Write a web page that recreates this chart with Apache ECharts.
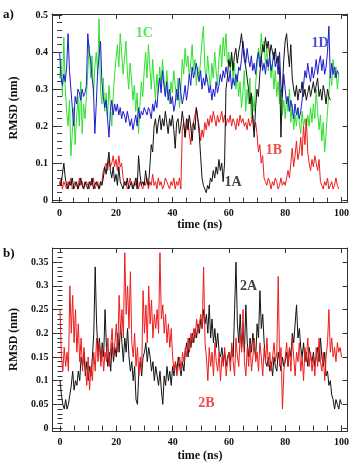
<!DOCTYPE html>
<html>
<head>
<meta charset="utf-8">
<script src="https://cdn.jsdelivr.net/npm/echarts@6/dist/echarts.min.js"></script>
<style>
  html, body { margin: 0; padding: 0; background: #fff; }
  #chart { width: 352px; height: 463px; }
</style>
</head>
<body>
<div id="chart"></div>
<script>
// sampling step of every trajectory (ns)
const DT = 0.5;

// panel a) RMSD (nm), one value per 0.5 ns
const rmsd1A = [
  0.05,0.04,0.07,0.10,0.06,0.04,0.03,0.05,0.04,0.06,0.03,0.04,0.05,0.03,0.04,0.06,0.04,0.03,0.05,0.04,
  0.03,0.05,0.04,0.06,0.03,0.04,0.05,0.04,0.03,0.05,0.04,0.06,0.09,0.07,0.10,0.13,0.08,0.06,0.09,0.05,
  0.07,0.04,0.09,0.05,0.04,0.03,0.05,0.04,0.06,0.03,0.04,0.05,0.03,0.04,0.06,0.03,0.12,0.07,0.04,0.05,
  0.04,0.08,0.05,0.04,0.09,0.15,0.13,0.20,0.22,0.18,0.21,0.23,0.19,0.22,0.20,0.24,0.21,0.18,0.22,0.20,
  0.23,0.19,0.14,0.21,0.22,0.18,0.20,0.24,0.21,0.17,0.22,0.19,0.23,0.20,0.16,0.21,0.19,0.25,0.22,0.18,
  0.12,0.06,0.04,0.03,0.02,0.04,0.03,0.06,0.05,0.08,0.06,0.09,0.07,0.11,0.08,0.10,0.05,0.10,0.30,0.33,
  0.38,0.36,0.40,0.35,0.39,0.41,0.37,0.40,0.42,0.45,0.41,0.38,0.36,0.33,0.30,0.26,0.29,0.22,0.17,0.25,
  0.30,0.28,0.34,0.38,0.42,0.40,0.44,0.41,0.43,0.39,0.42,0.40,0.38,0.41,0.37,0.39,0.35,0.17,0.30,0.38,
  0.43,0.45,0.40,0.36,0.42,0.33,0.30,0.28,0.31,0.27,0.30,0.29,0.32,0.28,0.30,0.27,0.29,0.31,0.28,0.30,
  0.32,0.29,0.31,0.33,0.28,0.30,0.27,0.31,0.29,0.26,0.30,0.28,0.27
];
const rmsd1B = [
  0.04,0.06,0.03,0.05,0.04,0.03,0.05,0.04,0.06,0.03,0.04,0.05,0.04,0.03,0.06,0.04,0.05,0.03,0.04,0.05,
  0.04,0.03,0.05,0.04,0.06,0.03,0.04,0.05,0.03,0.04,0.05,0.08,0.09,0.10,0.08,0.11,0.09,0.10,0.12,0.09,
  0.11,0.08,0.12,0.09,0.10,0.06,0.04,0.05,0.03,0.04,0.06,0.04,0.03,0.05,0.04,0.06,0.03,0.05,0.04,0.03,
  0.05,0.04,0.06,0.03,0.05,0.04,0.07,0.04,0.05,0.03,0.06,0.04,0.05,0.03,0.04,0.06,0.05,0.04,0.03,0.05,
  0.04,0.06,0.03,0.05,0.04,0.06,0.03,0.19,0.21,0.17,0.20,0.22,0.18,0.15,0.20,0.21,0.23,0.25,0.22,0.20,
  0.16,0.19,0.17,0.21,0.19,0.22,0.20,0.23,0.21,0.24,0.22,0.20,0.23,0.21,0.22,0.24,0.21,0.23,0.20,0.22,
  0.21,0.23,0.20,0.22,0.21,0.19,0.22,0.20,0.23,0.21,0.22,0.20,0.21,0.19,0.22,0.20,0.21,0.23,0.19,0.21,
  0.18,0.13,0.15,0.10,0.12,0.06,0.05,0.04,0.06,0.05,0.03,0.05,0.04,0.06,0.05,0.03,0.04,0.06,0.04,0.05,
  0.04,0.06,0.08,0.06,0.10,0.14,0.09,0.12,0.16,0.11,0.13,0.17,0.12,0.20,0.15,0.22,0.13,0.10,0.08,0.11,
  0.09,0.12,0.10,0.08,0.11,0.05,0.04,0.03,0.05,0.04,0.06,0.03,0.04,0.05,0.03,0.04,0.06,0.04,0.03
];
const rmsd1C = [
  0.33,0.38,0.28,0.44,0.30,0.24,0.20,0.27,0.12,0.18,0.25,0.15,0.22,0.28,0.20,0.32,0.18,0.26,0.22,0.28,
  0.35,0.42,0.33,0.39,0.28,0.36,0.40,0.34,0.49,0.30,0.26,0.33,0.24,0.29,0.22,0.31,0.26,0.20,0.28,0.34,
  0.38,0.42,0.36,0.45,0.40,0.34,0.38,0.43,0.35,0.30,0.37,0.33,0.27,0.31,0.24,0.29,0.18,0.26,0.32,0.28,
  0.35,0.40,0.33,0.42,0.36,0.30,0.38,0.32,0.27,0.34,0.29,0.36,0.31,0.38,0.33,0.28,0.35,0.30,0.26,0.32,
  0.29,0.35,0.31,0.27,0.33,0.25,0.30,0.38,0.34,0.41,0.36,0.39,0.33,0.37,0.42,0.35,0.38,0.31,0.36,0.33,
  0.38,0.43,0.47,0.36,0.32,0.39,0.34,0.30,0.37,0.33,0.40,0.35,0.31,0.38,0.42,0.36,0.44,0.39,0.45,0.37,
  0.40,0.35,0.39,0.33,0.37,0.30,0.34,0.28,0.32,0.25,0.29,0.35,0.24,0.30,0.26,0.33,0.22,0.28,0.24,0.31,
  0.36,0.41,0.38,0.45,0.40,0.43,0.37,0.41,0.35,0.39,0.33,0.37,0.30,0.35,0.28,0.32,0.26,0.30,0.23,0.27,
  0.22,0.28,0.24,0.30,0.21,0.26,0.19,0.23,0.20,0.25,0.21,0.18,0.24,0.20,0.22,0.19,0.23,0.20,0.25,0.21,
  0.26,0.22,0.30,0.24,0.19,0.23,0.16,0.21,0.13,0.18,0.24,0.29,0.35,0.31,0.38,0.33,0.36,0.30,0.34
];
const rmsd1D = [
  0.40,0.33,0.31,0.34,0.32,0.36,0.45,0.35,0.30,0.25,0.20,0.28,0.26,0.30,0.29,0.27,0.30,0.28,0.29,0.31,
  0.45,0.40,0.38,0.33,0.30,0.18,0.26,0.35,0.39,0.43,0.32,0.28,0.25,0.27,0.22,0.17,0.24,0.27,0.23,0.26,
  0.24,0.26,0.23,0.25,0.22,0.24,0.23,0.21,0.24,0.22,0.20,0.22,0.19,0.21,0.23,0.20,0.25,0.22,0.24,0.23,
  0.25,0.24,0.23,0.25,0.24,0.22,0.26,0.24,0.27,0.25,0.30,0.33,0.29,0.35,0.31,0.28,0.32,0.27,0.30,0.26,
  0.28,0.24,0.26,0.30,0.27,0.33,0.29,0.26,0.28,0.31,0.27,0.30,0.34,0.31,0.36,0.33,0.35,0.37,0.34,0.32,
  0.35,0.30,0.33,0.31,0.34,0.32,0.29,0.31,0.27,0.30,0.28,0.32,0.29,0.31,0.34,0.32,0.35,0.33,0.36,0.34,
  0.32,0.35,0.30,0.33,0.31,0.34,0.32,0.36,0.35,0.38,0.43,0.40,0.37,0.41,0.38,0.36,0.39,0.35,0.37,0.34,
  0.38,0.40,0.36,0.39,0.35,0.37,0.34,0.38,0.36,0.39,0.35,0.37,0.40,0.36,0.38,0.34,0.40,0.31,0.28,0.34,
  0.30,0.26,0.28,0.24,0.27,0.25,0.22,0.26,0.23,0.25,0.22,0.24,0.27,0.31,0.35,0.33,0.37,0.34,0.32,0.36,
  0.33,0.35,0.38,0.34,0.37,0.39,0.35,0.38,0.34,0.36,0.40,0.47,0.33,0.37,0.34,0.36,0.33,0.35,0.34
];

// panel b) RMSD (nm), one value per 0.5 ns
const rmsd2A = [
  0.10,0.07,0.05,0.04,0.06,0.04,0.05,0.07,0.09,0.12,0.08,0.10,0.09,0.12,0.10,0.15,0.13,0.16,0.11,0.14,
  0.10,0.13,0.11,0.15,0.20,0.34,0.22,0.16,0.19,0.14,0.18,0.15,0.25,0.17,0.13,0.16,0.12,0.18,0.14,0.17,
  0.15,0.20,0.16,0.22,0.18,0.14,0.19,0.16,0.21,0.15,0.12,0.14,0.10,0.13,0.06,0.05,0.12,0.14,0.11,0.15,
  0.16,0.18,0.14,0.17,0.15,0.12,0.14,0.10,0.13,0.11,0.09,0.12,0.08,0.05,0.11,0.09,0.13,0.10,0.12,0.09,
  0.13,0.11,0.14,0.12,0.15,0.13,0.11,0.14,0.12,0.16,0.18,0.15,0.19,0.17,0.20,0.18,0.21,0.19,0.22,0.20,
  0.23,0.21,0.25,0.22,0.24,0.20,0.26,0.19,0.23,0.18,0.21,0.17,0.20,0.16,0.15,0.17,0.14,0.16,0.13,0.15,
  0.16,0.14,0.17,0.15,0.25,0.35,0.22,0.18,0.24,0.17,0.21,0.16,0.26,0.18,0.15,0.19,0.16,0.20,0.17,0.15,
  0.22,0.19,0.29,0.21,0.24,0.18,0.14,0.13,0.15,0.12,0.14,0.11,0.15,0.13,0.12,0.16,0.14,0.12,0.15,0.13,
  0.14,0.16,0.13,0.17,0.15,0.20,0.18,0.22,0.26,0.19,0.21,0.17,0.15,0.18,0.14,0.16,0.13,0.17,0.15,0.14,
  0.16,0.13,0.15,0.17,0.14,0.19,0.15,0.13,0.16,0.11,0.12,0.09,0.10,0.07,0.06,0.04,0.06,0.05,0.04,0.06,
  0.05
];
const rmsd2B = [
  0.25,0.15,0.12,0.17,0.13,0.16,0.12,0.30,0.20,0.28,0.18,0.25,0.16,0.22,0.14,0.19,0.12,0.17,0.13,0.09,
  0.15,0.08,0.13,0.10,0.16,0.12,0.19,0.14,0.18,0.13,0.17,0.12,0.16,0.14,0.19,0.13,0.17,0.21,0.15,0.18,
  0.22,0.16,0.28,0.20,0.25,0.19,0.37,0.24,0.30,0.21,0.33,0.18,0.15,0.20,0.13,0.17,0.11,0.15,0.12,0.29,
  0.20,0.26,0.18,0.30,0.22,0.27,0.19,0.24,0.21,0.25,0.20,0.37,0.23,0.26,0.20,0.24,0.18,0.22,0.17,0.21,
  0.15,0.12,0.14,0.11,0.13,0.15,0.12,0.16,0.14,0.17,0.15,0.19,0.16,0.20,0.18,0.21,0.19,0.23,0.20,0.22,
  0.24,0.21,0.34,0.18,0.15,0.10,0.17,0.13,0.16,0.11,0.18,0.14,0.12,0.16,0.10,0.15,0.13,0.17,0.11,0.14,
  0.16,0.12,0.18,0.14,0.11,0.19,0.15,0.13,0.20,0.16,0.25,0.14,0.11,0.17,0.13,0.18,0.12,0.15,0.19,0.14,
  0.16,0.12,0.18,0.15,0.11,0.17,0.14,0.19,0.13,0.16,0.12,0.15,0.18,0.14,0.16,0.32,0.13,0.17,0.04,0.12,
  0.15,0.18,0.13,0.17,0.12,0.19,0.15,0.11,0.16,0.14,0.18,0.12,0.15,0.10,0.17,0.14,0.19,0.13,0.16,0.12,
  0.15,0.11,0.17,0.13,0.19,0.14,0.12,0.16,0.10,0.15,0.18,0.25,0.16,0.19,0.15,0.17,0.14,0.18,0.16,0.17,
  0.15
];

// tick labels
const xTicks = [0, 20, 40, 60, 80, 100];
const xMinorTicks = [0,5,10,15,20,25,30,35,40,45,50,55,60,65,70,75,80,85,90,95,100];
const yTicksA = [0, 0.1, 0.2, 0.3, 0.4, 0.5];
const yTicksB = [0, 0.05, 0.1, 0.15, 0.2, 0.25, 0.3, 0.35];

// curve labels, placed in data coordinates
const labelNamesA = ['1A', '1B', '1C', '1D'];
const labelTimeA = [61.5, 76, 30, 92.4];
const labelRmsdA = [0.047, 0.135, 0.451, 0.424];
const labelNamesB = ['2A', '2B'];
const labelTimeB = [67, 52];
const labelRmsdB = [0.298, 0.052];

const FONT = "'Liberation Serif', 'DejaVu Serif', serif";
const AXIS_COLOR = '#333';
const C_BLACK = '#111111';
const C_RED = '#ee1c1c';
const C_GREEN = '#2fe02f';
const C_BLUE = '#1c1cd0';

const minorSteps = (lo, hi, step) => {
  const out = [];
  for (let v = lo; v <= hi + 1e-9; v += step) out.push(+v.toFixed(4));
  return out;
};

const toPairs = (vals) => vals.map((v, i) => [i * DT, v]);

const xAxesFor = (gridIndex) => {
  const base = {
    type: 'value', gridIndex, min: -2.7, max: 102.1,
    splitLine: { show: false }
  };
  return [
    { ...base, position: 'bottom',
      axisLine: { show: true, onZero: false, lineStyle: { color: AXIS_COLOR, width: 1 } },
      axisTick: { show: true, inside: true, length: 5, customValues: xTicks, lineStyle: { color: AXIS_COLOR } },
      axisLabel: { show: true, customValues: xTicks, margin: 6, color: '#111',
        fontFamily: FONT, fontWeight: 'bold', fontSize: 10 },
      name: 'time (ns)', nameLocation: 'middle',
      nameGap: gridIndex === 0 ? 17 : 19,
      nameTextStyle: { fontFamily: FONT, fontWeight: 'bold', fontSize: 12, color: '#111' }
    },
    { ...base, position: 'bottom',
      axisLine: { show: false },
      axisTick: { show: true, inside: true, length: 2.5, customValues: xMinorTicks, lineStyle: { color: AXIS_COLOR } },
      axisLabel: { show: false }
    },
    { ...base, position: 'top',
      axisLine: { show: true, onZero: false, lineStyle: { color: AXIS_COLOR, width: 1 } },
      axisTick: { show: true, inside: true, length: 5, customValues: xTicks, lineStyle: { color: AXIS_COLOR } },
      axisLabel: { show: false }
    },
    { ...base, position: 'top',
      axisLine: { show: false },
      axisTick: { show: true, inside: true, length: 2.5, customValues: xMinorTicks, lineStyle: { color: AXIS_COLOR } },
      axisLabel: { show: false }
    }
  ];
};

const yAxesFor = (gridIndex, min, max, ticks, minor) => {
  const base = { type: 'value', gridIndex, min, max, splitLine: { show: false } };
  return [
    { ...base, position: 'left',
      axisLine: { show: true, onZero: false, lineStyle: { color: AXIS_COLOR, width: 1 } },
      axisTick: { show: true, inside: true, length: 5, customValues: ticks, lineStyle: { color: AXIS_COLOR } },
      axisLabel: { show: true, customValues: ticks, margin: 4, color: '#111',
        fontFamily: FONT, fontWeight: 'bold', fontSize: 10 },
      name: 'RMSD (nm)', nameLocation: 'middle', nameGap: 32,
      nameTextStyle: { fontFamily: FONT, fontWeight: 'bold', fontSize: 12, color: '#111' }
    },
    { ...base, position: 'left',
      axisLine: { show: false },
      axisTick: { show: true, inside: true, length: 2.5, customValues: minor, lineStyle: { color: AXIS_COLOR } },
      axisLabel: { show: false }
    },
    { ...base, position: 'right',
      axisLine: { show: true, onZero: false, lineStyle: { color: AXIS_COLOR, width: 1 } },
      axisTick: { show: true, inside: true, length: 5, customValues: ticks, lineStyle: { color: AXIS_COLOR } },
      axisLabel: { show: false }
    },
    { ...base, position: 'right',
      axisLine: { show: false },
      axisTick: { show: true, inside: true, length: 2.5, customValues: minor, lineStyle: { color: AXIS_COLOR } },
      axisLabel: { show: false }
    }
  ];
};

const lineSeries = (vals, color, xAxisIndex, yAxisIndex) => ({
  type: 'line',
  xAxisIndex, yAxisIndex,
  data: toPairs(vals),
  showSymbol: false,
  symbol: 'none',
  silent: true,
  lineStyle: { color, width: 1 },
  animation: false
});

const labelSeries = (names, times, values, colors, xAxisIndex, yAxisIndex) => ({
  type: 'scatter',
  xAxisIndex, yAxisIndex,
  symbolSize: 1,
  itemStyle: { color: 'rgba(0,0,0,0)' },
  silent: true,
  data: names.map((n, i) => ({
    name: n,
    value: [times[i], values[i]],
    label: { color: colors[i] }
  })),
  label: {
    show: true, position: 'inside', formatter: '{b}',
    fontFamily: FONT, fontWeight: 'bold', fontSize: 14
  },
  z: 10
});

const chart = echarts.init(document.getElementById('chart'), null, { renderer: 'canvas' });

chart.setOption({
  animation: false,
  backgroundColor: '#fff',
  grid: [
    { left: 48, top: 14, width: 301, height: 188 },
    { left: 48, top: 248, width: 301, height: 185 }
  ],
  xAxis: [...xAxesFor(0), ...xAxesFor(1)],
  yAxis: [
    ...yAxesFor(0, -0.005, 0.503, yTicksA, minorSteps(0, 0.5, 0.02)),
    ...yAxesFor(1, -0.0063, 0.38, yTicksB, minorSteps(0, 0.38, 0.01))
  ],
  graphic: [
    { type: 'text', left: 3, top: 8,
      style: { text: 'a)', font: "bold 13px " + FONT, fill: '#111' } },
    { type: 'text', left: 3, top: 247,
      style: { text: 'b)', font: "bold 13px " + FONT, fill: '#111' } }
  ],
  series: [
    lineSeries(rmsd1C, C_GREEN, 0, 0),
    lineSeries(rmsd1B, C_RED, 0, 0),
    lineSeries(rmsd1D, C_BLUE, 0, 0),
    lineSeries(rmsd1A, C_BLACK, 0, 0),
    labelSeries(labelNamesA, labelTimeA, labelRmsdA, [C_BLACK, C_RED, C_GREEN, C_BLUE], 0, 0),
    lineSeries(rmsd2A, C_BLACK, 4, 4),
    lineSeries(rmsd2B, C_RED, 4, 4),
    labelSeries(labelNamesB, labelTimeB, labelRmsdB, [C_BLACK, C_RED], 4, 4)
  ]
});
</script>
</body>
</html>
